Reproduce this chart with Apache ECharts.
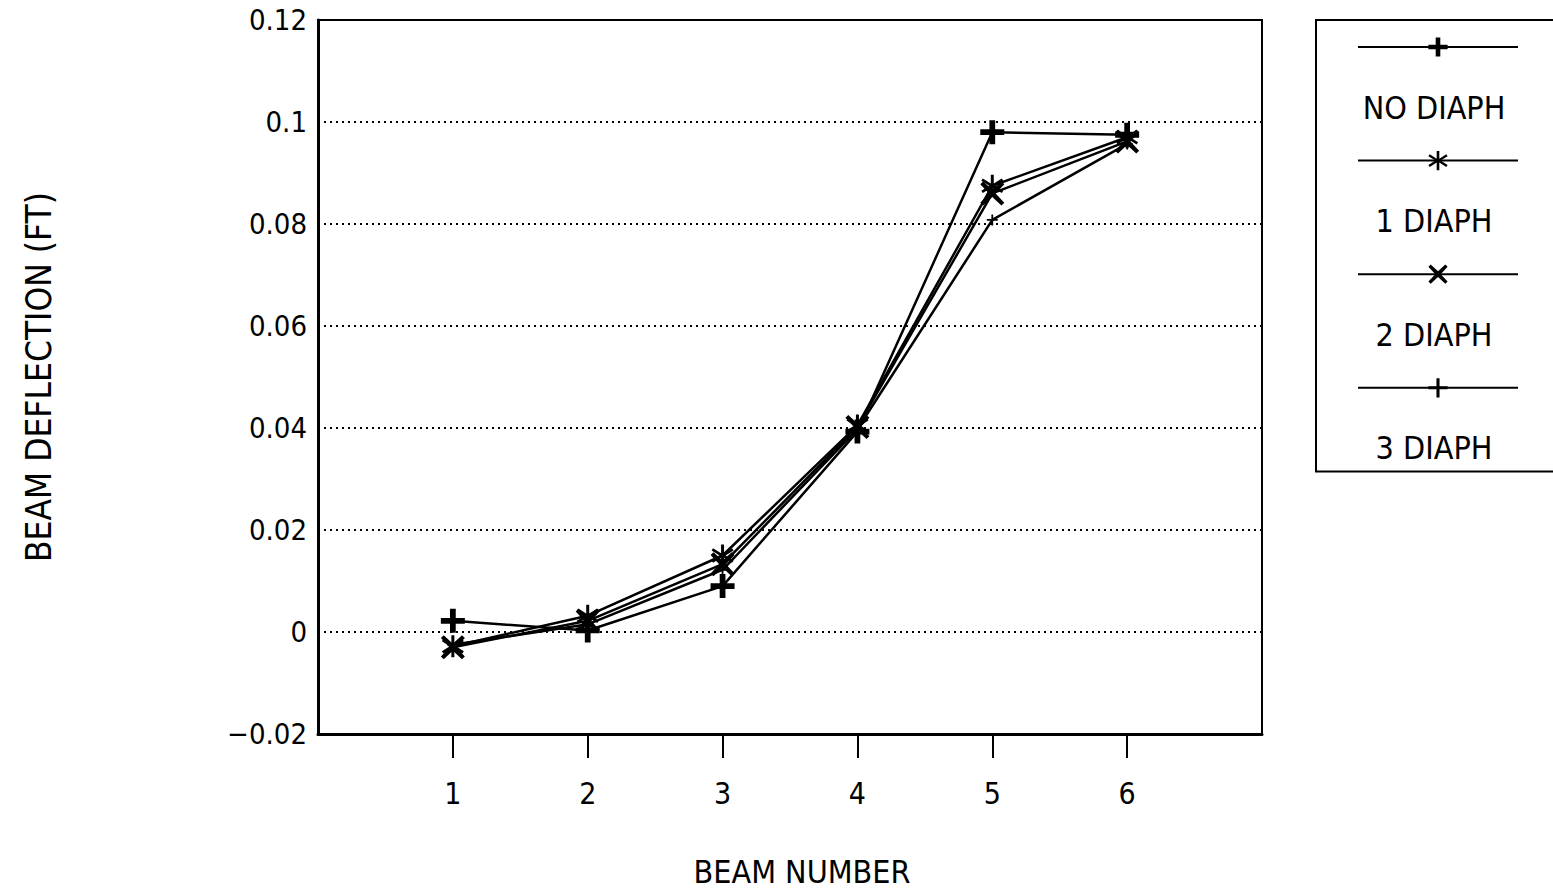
<!DOCTYPE html>
<html>
<head>
<meta charset="utf-8">
<script src="https://cdn.jsdelivr.net/npm/echarts@6/dist/echarts.min.js"></script>
<style>
  html, body { margin: 0; padding: 0; background: #fff; }
  #chart { width: 1553px; height: 893px; }
</style>
</head>
<body>
<div id="chart"></div>
<script>
// beam numbers on the x axis
const beams = [1, 2, 3, 4, 5, 6]
const seriesNames = ['NO DIAPH', '1 DIAPH', '2 DIAPH', '3 DIAPH']

// deflection (ft)
const noDiaph = [0.0022, 0.0003, 0.009, 0.0393, 0.098, 0.0975]
const oneDiaph = [-0.0028, 0.0032, 0.015, 0.0405, 0.0875, 0.097]
const twoDiaph = [-0.003, 0.0022, 0.0133, 0.0402, 0.086, 0.0962]
const threeDiaph = [-0.0025, 0.0015, 0.0122, 0.0398, 0.0808, 0.0957]

const yTicks = [-0.02, 0, 0.02, 0.04, 0.06, 0.08, 0.1, 0.12]

const font = "'DejaVu Sans Condensed', 'Liberation Sans Narrow', 'DejaVu Sans', sans-serif"

const chart = echarts.init(document.getElementById('chart'), null, { renderer: 'svg' })

// marker shapes
const plusSym = 'path://M-1.2,-5L1.2,-5L1.2,-1.2L5,-1.2L5,1.2L1.2,1.2L1.2,5L-1.2,5L-1.2,1.2L-5,1.2L-5,-1.2L-1.2,-1.2Z'
const starSym = 'path://M-0.6,-5L0.6,-5L0.6,-1L3.8,-3.3L4.4,-2.3L1.2,0L4.4,2.3L3.8,3.3L0.6,1L0.6,5L-0.6,5L-0.6,1L-3.8,3.3L-4.4,2.3L-1.2,0L-4.4,-2.3L-3.8,-3.3L-0.6,-1Z'
const crossSym = 'path://M-5,-3.4L-3.8,-4.4L0,-1.3L3.8,-4.4L5,-3.4L1.4,0L5,3.4L3.8,4.4L0,1.3L-3.8,4.4L-5,3.4L-1.4,0Z'
const dotSym = 'path://M-0.8,-5L0.8,-5L0.8,-0.8L5,-0.8L5,0.8L0.8,0.8L0.8,5L-0.8,5L-0.8,0.8L-5,0.8L-5,-0.8L-0.8,-0.8Z'

const makeSeries = (name, values, symbol, size) => ({
  name,
  type: 'line',
  data: beams.map((b, i) => [b, values[i]]),
  symbol,
  symbolSize: size,
  showAllSymbol: true,
  lineStyle: { color: '#000', width: 2.5 },
  itemStyle: { color: '#000', borderWidth: 0 },
  emphasis: { disabled: true },
  animation: false,
})

// legend text rows (centre y)
const legendRows = [108, 221, 335, 448]

const option = {
  backgroundColor: '#fff',
  animation: false,
  grid: {
    left: 318,
    top: 20,
    width: 944,
    height: 716,
    show: true,
    borderColor: '#000',
    borderWidth: 2,
  },
  xAxis: {
    type: 'value',
    min: 0,
    max: 7,
    interval: 1,
    name: 'BEAM NUMBER',
    nameLocation: 'middle',
    nameGap: 122,
    nameTextStyle: { color: '#000', fontSize: 32, fontFamily: font, padding: [0, 0, 0, 24] },
    axisLine: { onZero: false, lineStyle: { color: '#000', width: 3 } },
    axisTick: {
      show: true,
      inside: false,
      length: 24,
      customValues: beams,
      lineStyle: { color: '#000', width: 2 },
    },
    axisLabel: {
      customValues: beams,
      margin: 44,
      color: '#000',
      fontSize: 30,
      fontFamily: font,
    },
    splitLine: { show: false },
  },
  yAxis: {
    type: 'value',
    min: -0.02,
    max: 0.12,
    interval: 0.02,
    name: 'BEAM DEFLECTION (FT)',
    nameLocation: 'middle',
    nameGap: 262,
    nameTextStyle: { color: '#000', fontSize: 35, fontFamily: font },
    axisLine: { show: true, onZero: false, lineStyle: { color: '#000', width: 3 } },
    axisTick: { show: false },
    axisLabel: {
      margin: 11,
      color: '#000',
      fontSize: 29,
      fontFamily: font,
      formatter: (v) => {
        const t = yTicks.find((y) => Math.abs(y - v) < 1e-9)
        if (t === undefined) return ''
        const s = String(Number(Math.abs(t).toFixed(2)))
        return t < 0 ? '\u2212' + s : s
      },
    },
    splitLine: {
      show: true,
      lineStyle: { color: '#000', width: 2, type: [2, 4] },
    },
  },
  legend: {
    orient: 'vertical',
    left: 1316,
    top: 20,
    padding: [15, 90, 74, 41],
    itemWidth: 160,
    itemHeight: 24,
    itemGap: 92,
    borderColor: '#000',
    borderWidth: 2,
    data: seriesNames,
    formatter: () => '',
    selectedMode: false,
    textStyle: { fontSize: 1 },
  },
  graphic: seriesNames.map((name, i) => ({
    type: 'text',
    x: 1434,
    y: legendRows[i],
    style: {
      text: name,
      fill: '#000',
      fontSize: 32,
      fontFamily: font,
      align: 'center',
      verticalAlign: 'middle',
    },
    silent: true,
  })),
  series: [
    makeSeries(seriesNames[0], noDiaph, plusSym, 24),
    makeSeries(seriesNames[1], oneDiaph, starSym, 22),
    makeSeries(seriesNames[2], twoDiaph, crossSym, 24),
    makeSeries(seriesNames[3], threeDiaph, dotSym, 11),
  ],
}

chart.setOption(option)
</script>
</body>
</html>
